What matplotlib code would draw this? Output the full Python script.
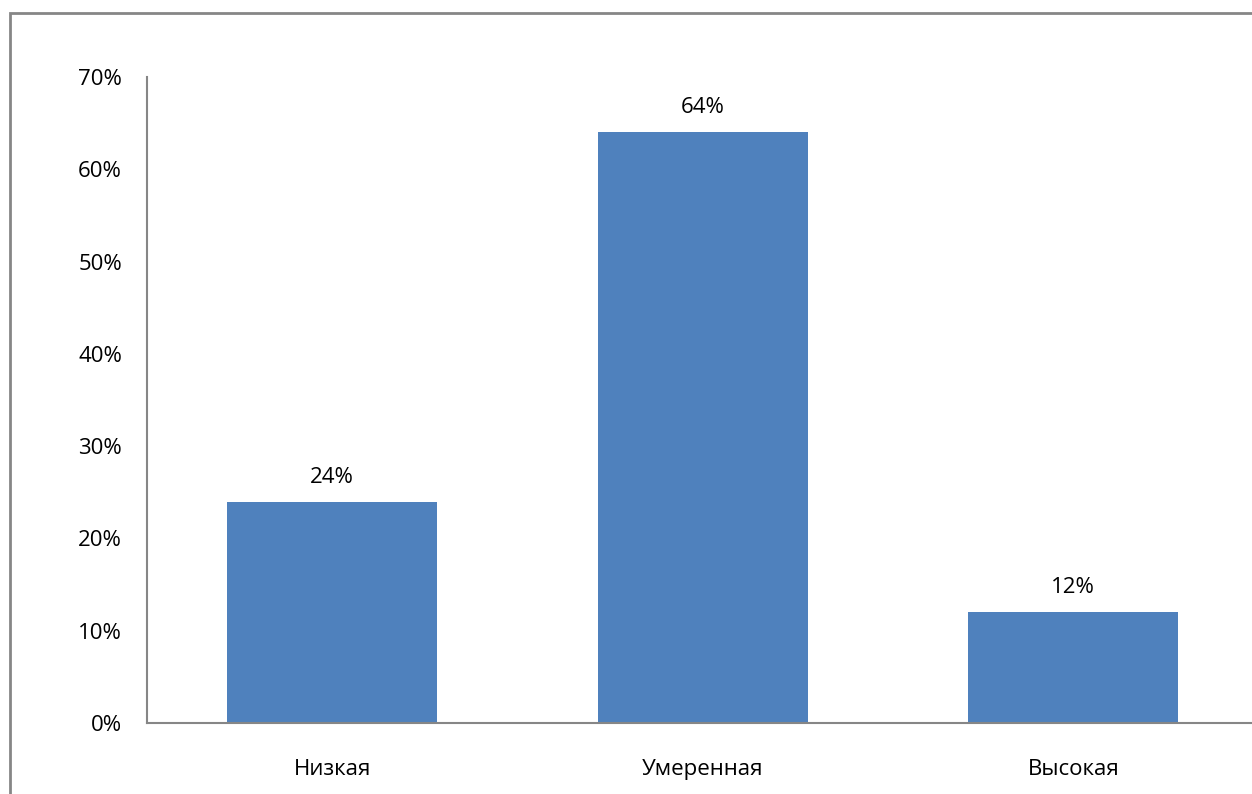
import matplotlib
matplotlib.use('Agg')
import matplotlib.pyplot as plt
from matplotlib.patches import Rectangle
from matplotlib.ticker import FuncFormatter

categories = ['Низкая', 'Умеренная', 'Высокая']
values = [0.24, 0.64, 0.12]
labels = ['24%', '64%', '12%']
yticks = [0, 0.1, 0.2, 0.3, 0.4, 0.5, 0.6, 0.7]

plt.rcParams['font.family'] = ['Open Sans', 'DejaVu Sans']

fig = plt.figure(figsize=(12.52, 7.94), dpi=100)
# рамка диаграммы (обрезана справа и снизу)
fig.patches.append(Rectangle((10 / 1252, -0.1), 1.2, 1.1 - 13 / 794,
                             transform=fig.transFigure, fill=False,
                             edgecolor='#868686', linewidth=2))

ax = fig.add_axes([147 / 1252, 1 - 723 / 794, 1111.5 / 1252, 646 / 794])
x = range(len(categories))
ax.bar(x, values, width=0.567, color='#4F81BD')
for i, v in enumerate(values):
    ax.annotate(labels[i], (i, v), xytext=(0, 10), textcoords='offset points',
                ha='center', va='bottom', fontsize=16)

ax.set_xlim(-0.5, 2.5)
ax.set_ylim(0, 0.7)
ax.set_yticks(yticks)
ax.yaxis.set_major_formatter(FuncFormatter(lambda v, p: f'{v * 100:.0f}%'))
ax.set_xticks(list(x))
ax.set_xticklabels(categories)
ax.tick_params(axis='both', length=0, labelsize=16)
ax.tick_params(axis='y', pad=18)
ax.tick_params(axis='x', pad=26)
for s in ['top', 'right']:
    ax.spines[s].set_visible(False)
for s in ['left', 'bottom']:
    ax.spines[s].set_color('#868686')
    ax.spines[s].set_linewidth(1.5)

fig.savefig('out.png', dpi=100)
